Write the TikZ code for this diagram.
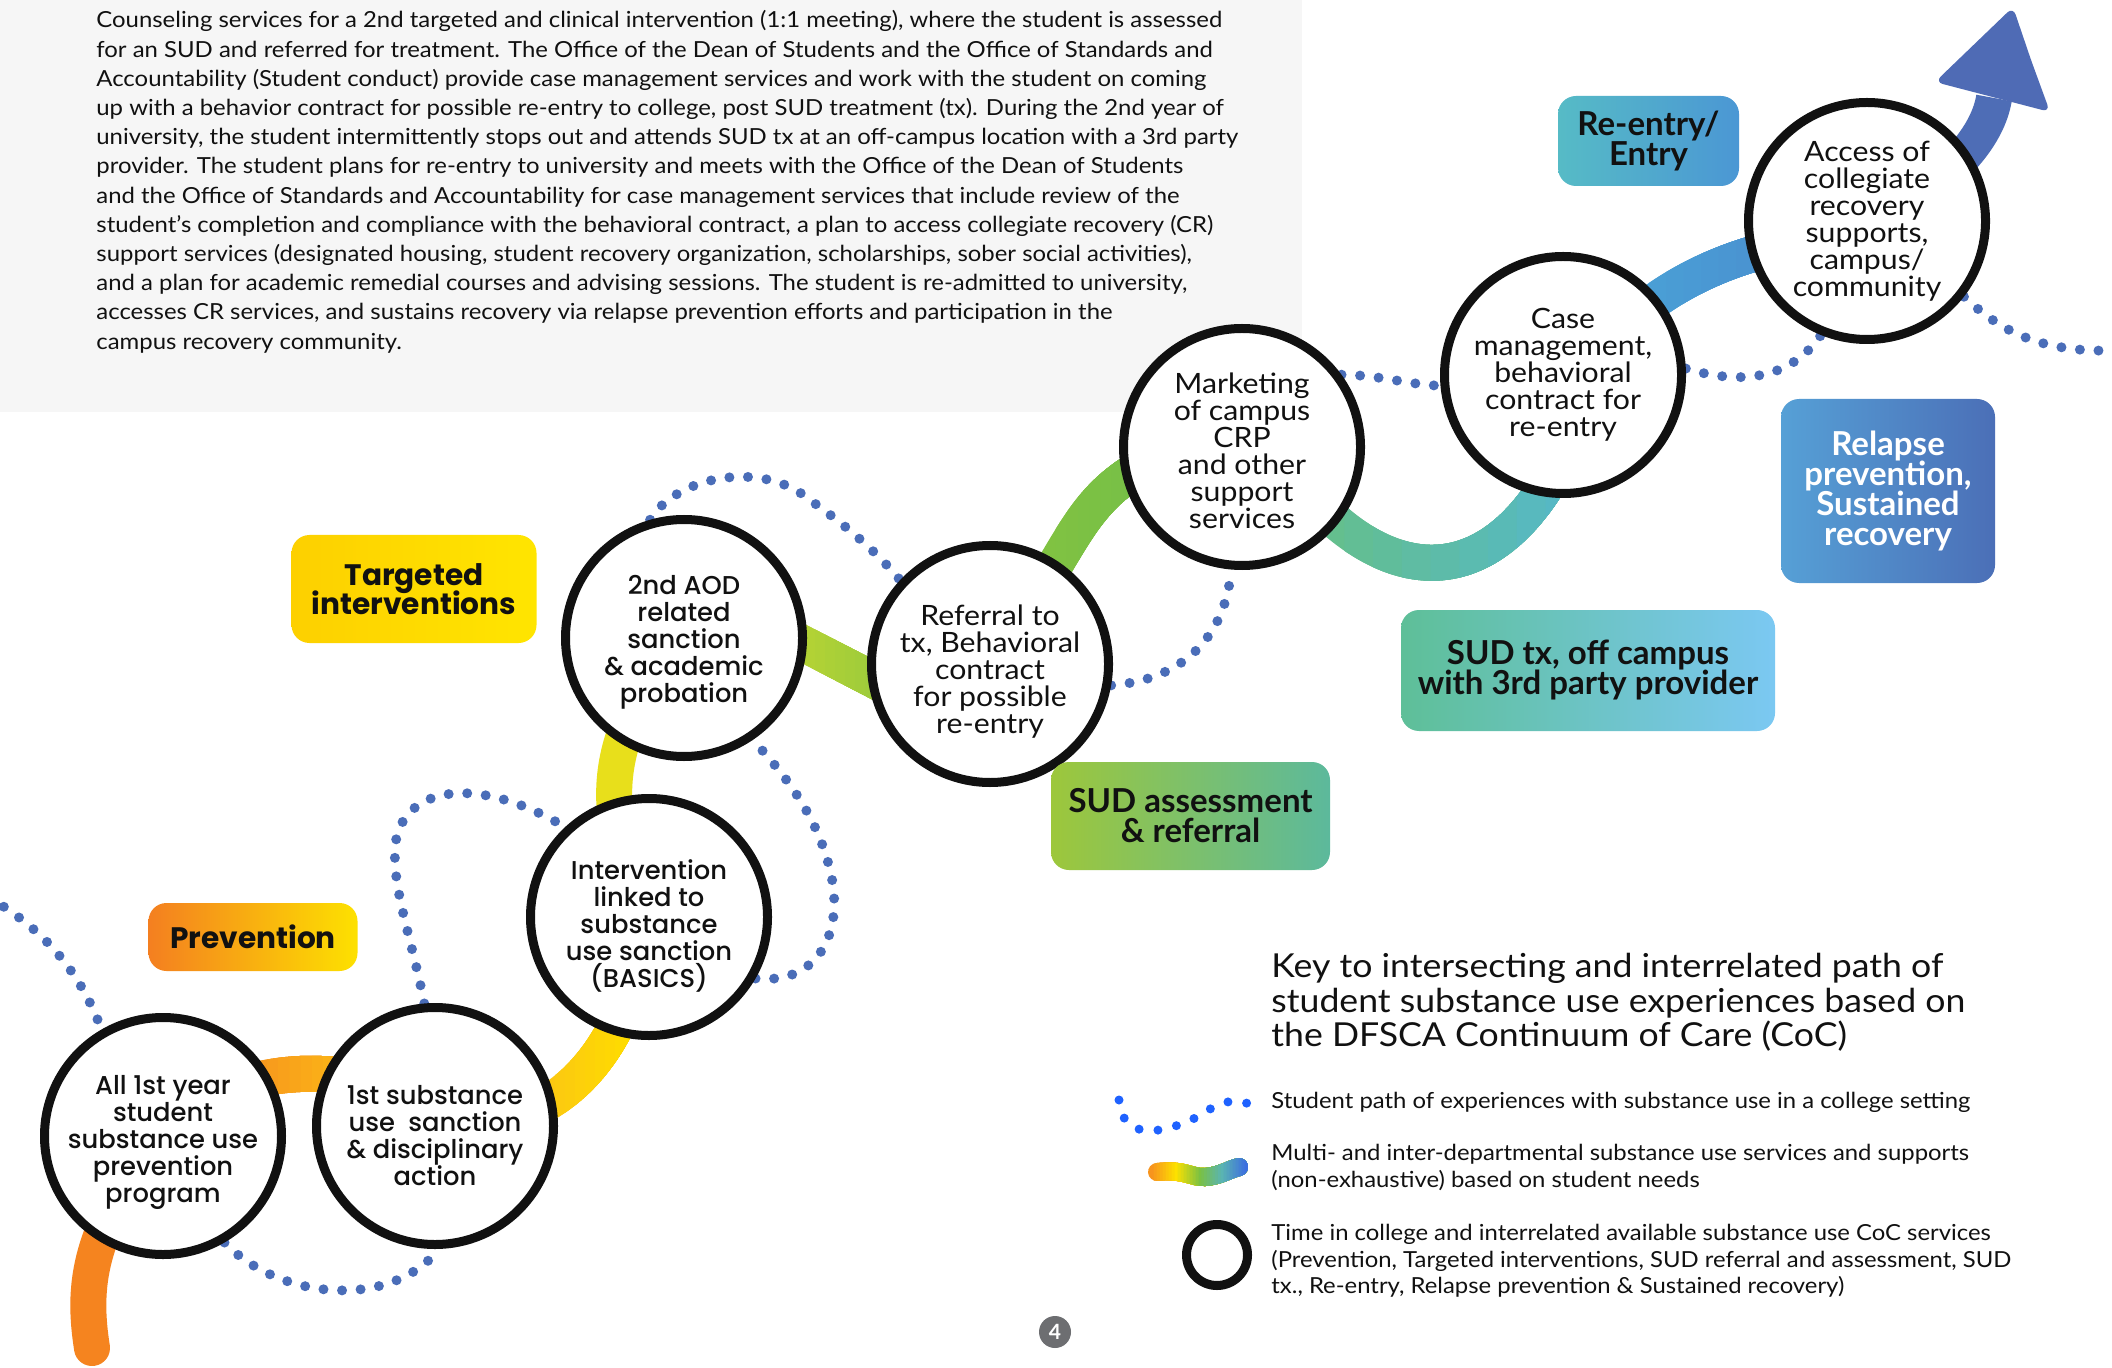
\documentclass[tikz,border=0pt]{standalone}
\usepackage{fontspec}
\setmainfont{Lato}
\newfontfamily\lato{Lato}
\newfontfamily\latox{Lato}[FakeStretch=1.08]
\newfontfamily\popm{Poppins}[UprightFont={* Medium}, BoldFont={* Bold}]
\newfontfamily\popb{Poppins}[UprightFont={* Bold}]
% keep a fixed line pitch inside multi-line nodes
\newcommand\fixedpitch{\lineskiplimit=-100pt\lineskip=0pt\relax}

\definecolor{paper}{HTML}{F6F6F6}
\definecolor{ink}{HTML}{111111}
\definecolor{ringblack}{HTML}{111111}
\definecolor{dotblue}{HTML}{4A6DB8}
\definecolor{keyblue}{HTML}{1F62FF}
\definecolor{pagegray}{HTML}{6D6E71}
% band colours
\definecolor{bandA}{HTML}{F5841F}
\definecolor{bandB1}{HTML}{F7951E}
\definecolor{bandB2}{HTML}{FBB516}
\definecolor{bandC1}{HTML}{FCC811}
\definecolor{bandC2}{HTML}{FEDC00}
\definecolor{bandD}{HTML}{E8DF1B}
\definecolor{bandE1}{HTML}{B5D334}
\definecolor{bandE2}{HTML}{9CCB3C}
\definecolor{bandF1}{HTML}{80C242}
\definecolor{bandF2}{HTML}{76C047}
\definecolor{bandG1}{HTML}{64BF8E}
\definecolor{bandG2}{HTML}{56B8C4}
\definecolor{bandH1}{HTML}{4AA0D6}
\definecolor{bandH2}{HTML}{4A90D0}
\definecolor{shaft}{HTML}{4E6DB6}
\definecolor{arrowhead}{HTML}{4F6BB5}
% label colours
\definecolor{tgL}{HTML}{FDD000}\definecolor{tgR}{HTML}{FFE500}
\definecolor{pvL}{HTML}{F47F20}\definecolor{pvR}{HTML}{FDE100}
\definecolor{saL}{HTML}{9DC73B}\definecolor{saR}{HTML}{5CB99C}
\definecolor{stL}{HTML}{5EBF98}\definecolor{stR}{HTML}{7BC8F2}
\definecolor{reL}{HTML}{56BBC6}\definecolor{reR}{HTML}{4B97D4}
\definecolor{rpL}{HTML}{56A0D6}\definecolor{rpR}{HTML}{4B6FB7}
% rainbow key colours
\definecolor{rbO}{HTML}{F7941D}
\definecolor{rbY}{HTML}{FDE100}
\definecolor{rbG}{HTML}{7AC143}
\definecolor{rbT}{HTML}{5AB4B2}
\definecolor{rbB}{HTML}{3D6FE0}

\pgfdeclarelayer{sheet}
\pgfdeclarelayer{paths}
\pgfsetlayers{sheet,paths,main}

% colour ramp along x for a thick stroke: style, path, x0, x1, colour A, colour B
\newcommand\gseg[6]{%
  \foreach \k in {1,...,8}{%
    \pgfmathsetmacro\xs{#3+(#4-#3)*(\k-0.5)/8}%
    \pgfmathtruncatemacro\pc{100-12.5*\k}%
    \begin{scope}
      \clip (\xs,-100) rectangle (2300,1500);
      \draw[#1,draw=#5!\pc!#6] #2;
    \end{scope}}}
\newcommand\gband[5]{%
  \draw[band,draw=#4] #1;
  \gseg{band}{#1}{#2}{#3}{#4}{#5}}

\tikzset{
  ring/.style={circle, draw=ringblack, line width=4.5pt, fill=white,
    minimum size=118.5pt, inner sep=0pt},
  geo/.style={align=center, inner sep=0pt, text=ink,
    font=\popm\fontsize{12.9}{13.5}\selectfont\fixedpitch},
  hum/.style={align=center, inner sep=0pt, text=ink,
    font=\latox\fontsize{14}{13.5}\selectfont\fixedpitch},
  band/.style={line width=18pt, line cap=round},
  dots/.style={draw=dotblue, line width=5pt, line cap=round,
    dash pattern=on 0pt off 9.3pt},
  tag/.style={rounded corners=9pt, inner sep=0pt, align=center, text=ink},
  geotag/.style={tag, font=\popb\fontsize{14.8}{14.8}\selectfont\fixedpitch},
  humtag/.style={tag, font=\lato\bfseries\fontsize{16.5}{15}\selectfont\fixedpitch},
  story/.style={anchor=base west, inner sep=0pt, text=ink,
    font=\latox\fontsize{11.07}{14}\selectfont},
  keytitle/.style={anchor=base west, inner sep=0pt, text=ink,
    font=\latox\fontsize{16.5}{17}\selectfont},
  keytext/.style={anchor=base west, inner sep=0pt, text=ink,
    font=\latox\fontsize{11.05}{13.5}\selectfont},
}

\begin{document}
\begin{tikzpicture}[x=0.5pt, y=-0.5pt]
\useasboundingbox (0,0) rectangle (2112,1368);

\begin{pgfonlayer}{sheet}
  \fill[white] (0,0) rectangle (2112,1368);
  \fill[paper] (0,0) rectangle (1302,412);
\end{pgfonlayer}

% narrative text
\foreach [count=\i] \ln in {
  {Counseling services for a 2nd targeted and clinical intervention (1:1 meeting), where the student is assessed},
  {for an SUD and referred for treatment. The Office of the Dean of Students and the Office of Standards and},
  {Accountability (Student conduct) provide case management services and work with the student on coming},
  {up with a behavior contract for possible re-entry to college, post SUD treatment (tx). During the 2nd year of},
  {university, the student intermittently stops out and attends SUD tx at an off-campus location with a 3rd party},
  {provider. The student plans for re-entry to university and meets with the Office of the Dean of Students},
  {and the Office of Standards and Accountability for case management services that include review of the},
  {student’s completion and compliance with the behavioral contract, a plan to access collegiate recovery (CR)},
  {support services (designated housing, student recovery organization, scholarships, sober social activities),},
  {and a plan for academic remedial courses and advising sessions. The student is re-admitted to university,},
  {accesses CR services, and sustains recovery via relapse prevention efforts and participation in the},
  {campus recovery community.}}
  \node[story] (s\i) at (96,{28+(\i-1)*29.2}) {\ln};

% continuum-of-care stations
\node[ring] (c1) at (163,1136) {};
\node[ring] (c2) at (435,1126) {};
\node[ring] (c3) at (649,917) {};
\node[ring] (c4) at (684,638) {};
\node[ring] (c5) at (990,664) {};
\node[ring] (c6) at (1242,447) {};
\node[ring] (c7) at (1563,375) {};
\node[ring] (c8) at (1867,221) {};

\node[geo] (t1) at ([yshift=-3.4pt]c1.center) {All 1st year\\student\\substance use\\prevention\\program};
\node[geo] (t2) at ([yshift=-4.7pt]c2.center) {1st substance\\use\ \ sanction\\\& disciplinary\\action};
\node[geo] (t3) at ([yshift=-4.7pt]c3.center) {Intervention\\linked to\\substance\\use sanction\\(BASICS)};
\node[geo] (t4) at ([yshift=-2pt]c4.center) {2nd AOD\\related\\sanction\\\& academic\\probation};
\node[hum] (t5) at ([yshift=-3.7pt]c5.center) {Referral to\\tx, Behavioral\\contract\\for possible\\re-entry};
\node[hum] (t6) at ([yshift=-1.7pt]c6.center) {Marketing\\of campus\\CRP\\and other\\support\\services};
\node[hum] (t7) at (c7.center) {Case\\management,\\behavioral\\contract for\\re-entry};
\node[hum] (t8) at (c8.center) {Access of\\collegiate\\recovery\\supports,\\campus/\\community};

% stage labels
\node[geotag, left color=tgL, right color=tgR, minimum width=122.5pt, minimum height=54pt]
  (lt) at (414,589) {Targeted\\interventions};
\node[geotag, left color=pvL, right color=pvR, minimum width=104.5pt, minimum height=34pt]
  (lp) at (253,937) {Prevention};
\node[humtag, left color=saL, right color=saR, minimum width=139.5pt, minimum height=54pt]
  (ls) at (1190.5,816) {SUD assessment\\\& referral};
\node[humtag, left color=stL, right color=stR, minimum width=187pt, minimum height=60.5pt]
  (lx) at (1588,670.5) {SUD tx, off campus\\with 3rd party provider};
\node[humtag, left color=reL, right color=reR, minimum width=90.5pt, minimum height=45pt]
  (le) at (1648.5,141) {Re-entry/\\Entry};
\node[humtag, text=white, left color=rpL, right color=rpR, minimum width=107pt, minimum height=92pt]
  (lr) at (1888,491) {Relapse\\prevention,\\Sustained\\recovery};

% free ends of the paths
\coordinate (a0) at (92,1348);
\coordinate (l0) at (-12,897);
\coordinate (r0) at (2125,350);

\begin{pgfonlayer}{paths}
  % service bands
  \draw[band, draw=bandA] (a0) .. controls (83,1290) and (85,1230) .. (c1.center);
  \gband{(c1.center) .. controls (215,1060) and (385,1050) .. (c2.center)}{250}{340}{bandB1}{bandB2}
  \gband{(c2.center) .. controls (540,1135) and (625,1075) .. (c3.center)}{550}{630}{bandC1}{bandC2}
  \draw[band, draw=bandD] (c3.center) .. controls (600,820) and (595,740) .. (c4.center);
  \gband{([shift={(56,-27)}]c4.center) -- ([shift={(-60,45)}]c5.center)}{800}{880}{bandE1}{bandE2}
  \gband{([shift={(40,-60)}]c5.center) .. controls (1075,540) and (1085,490) .. ([shift={(-80,10)}]c6.center)}{1050}{1140}{bandF1}{bandF2}
  \gband{([shift={(60,40)}]c6.center) .. controls (1380,580) and (1480,600) .. ([shift={(-10,100)}]c7.center)}{1330}{1560}{bandG1}{bandG2}
  \gband{([shift={(57,-45)}]c7.center) .. controls (1660,290) and (1720,258) .. ([shift={(-77,24)}]c8.center)}{1640}{1780}{bandH1}{bandH2}
  % arrow out of the last station
  \draw[line width=18pt, draw=shaft] ([shift={(55,-30)}]c8.center) .. controls (1955,170) and (1988,135) .. (1994,98);
  \fill[arrowhead, rounded corners=4pt] (2031,60) -- (2050,112) -- (1935,82) -- (2013,7) -- cycle;

  % student path
  \draw[dots] (l0) .. controls (45,930) and (80,972) .. (c1.120);
  \draw[dots] (c1.-60) .. controls (280,1300) and (390,1310) .. (c2.-88);
  \draw[dots] (c2.95) .. controls (412,940) and (393,890) .. (395,850)
              .. controls (397,790) and (470,770) .. (c3.133);
  \draw[dots] (c3.-30) .. controls (820,985) and (845,930) .. (830,870)
              .. controls (818,820) and (790,780) .. (c4.-56);
  \draw[dots] (c4.106) .. controls (675,478) and (760,458) .. (810,500)
              .. controls (845,525) and (875,550) .. (c5.137);
  \draw[dots] (c5.-10) .. controls (1180,680) and (1225,640) .. (c6.-95);
  \draw[dots] (c6.36) .. controls (1380,375) and (1410,385) .. (c7.185);
  \draw[dots] (c7.3) .. controls (1740,385) and (1790,380) .. (c8.-112);
  \draw[dots] (c8.-38) .. controls (2000,330) and (2040,355) .. (r0);
\end{pgfonlayer}

% key
\node[keytitle] (k1) at (1271,977) {Key to intersecting and interrelated path of};
\node[keytitle] (k2) at (1271,1012) {student substance use experiences based on};
\node[keytitle] (k3) at (1271,1046) {the DFSCA Continuum of Care (CoC)};

\draw[draw=keyblue, line width=4.5pt, line cap=round, dash pattern=on 0pt off 9.5pt]
  (1119,1100) .. controls (1122,1140) and (1160,1135) .. (1195,1118)
  .. controls (1215,1105) and (1235,1095) .. (1250,1105);
\node[keytext] (k4) at (1271,1108) {Student path of experiences with substance use in a college setting};

\def\rainbow{(1157,1172) .. controls (1185,1169) and (1192,1178) .. (1205,1177) .. controls (1220,1176) and (1230,1169) .. (1239,1167)}
\tikzset{rb/.style={line width=9pt, line cap=round}}
\draw[rb, draw=rbO] \rainbow;
\gseg{rb}{\rainbow}{1152}{1176}{rbO}{rbY}
\gseg{rb}{\rainbow}{1176}{1200}{rbY}{rbG}
\gseg{rb}{\rainbow}{1200}{1222}{rbG}{rbT}
\gseg{rb}{\rainbow}{1222}{1246}{rbT}{rbB}
\node[keytext] (k5) at (1271,1160) {Multi- and inter-departmental substance use services and supports};
\node[keytext] (k6) at (1271,1187) {(non-exhaustive) based on student needs};

\node[circle, draw=ringblack, line width=4.5pt, minimum size=30.5pt, inner sep=0pt] (kr) at (1217,1255) {};
\node[keytext] (k7) at (1271,1240) {Time in college and interrelated available substance use CoC services};
\node[keytext] (k8) at (1271,1267) {(Prevention, Targeted interventions, SUD referral and assessment, SUD};
\node[keytext] (k9) at (1271,1293) {tx., Re-entry, Relapse prevention \& Sustained recovery)};

% page number
\node[circle, fill=pagegray, minimum size=16pt, inner sep=0pt, text=white,
  font=\lato\bfseries\fontsize{10.5}{10.5}\selectfont] (pg) at (1055,1332) {4};
\end{tikzpicture}
\end{document}
